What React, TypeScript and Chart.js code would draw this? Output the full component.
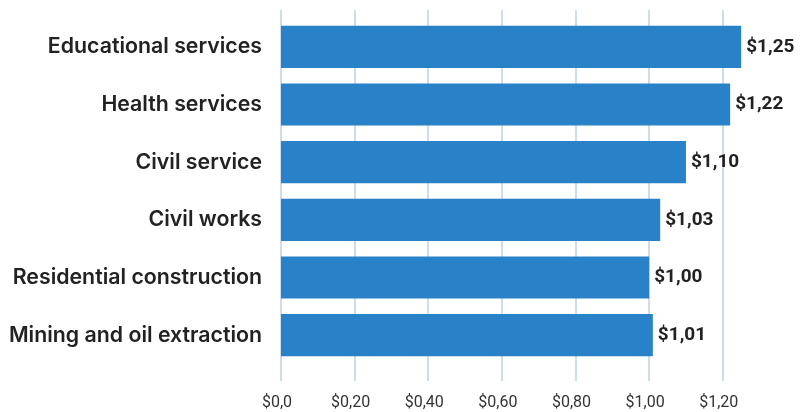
import React, { useEffect, useRef } from "react";
import { Chart, registerables } from "chart.js";

Chart.register(...registerables);

const categories = [
  "Educational services",
  "Health services",
  "Civil service",
  "Civil works",
  "Residential construction",
  "Mining and oil extraction",
];
const values = [1.25, 1.22, 1.1, 1.03, 1.0, 1.01];
const valueLabels = ["$1,25", "$1,22", "$1,10", "$1,03", "$1,00", "$1,01"];
const tickValues = [0, 0.2, 0.4, 0.6, 0.8, 1.0, 1.2];
const tickLabels = ["$0,0", "$0,20", "$0,40", "$0,60", "$0,80", "$1,00", "$1,20"];

const BAR_COLOR = "#2981c7";
const GRID_COLOR = "#cfdbf0";

const gridPlugin = {
  id: "customGrid",
  beforeDatasetsDraw(chart: any) {
    const { ctx } = chart;
    const x = chart.scales.x;
    ctx.save();
    ctx.strokeStyle = GRID_COLOR;
    ctx.lineWidth = 2;
    tickValues.forEach((v) => {
      const px = Math.round(x.getPixelForValue(v));
      ctx.beginPath();
      ctx.moveTo(px, 10);
      ctx.lineTo(px, 381);
      ctx.stroke();
    });
    ctx.restore();
  },
};

const valuePlugin = {
  id: "valueLabels",
  afterDatasetsDraw(chart: any) {
    const { ctx } = chart;
    const meta = chart.getDatasetMeta(0);
    ctx.save();
    ctx.fillStyle = "#222222";
    ctx.font = "bold 19px Roboto";
    ctx.textAlign = "left";
    ctx.textBaseline = "middle";
    meta.data.forEach((bar: any, i: number) => {
      ctx.fillText(valueLabels[i], bar.x + 5, bar.y);
    });
    ctx.restore();
  },
};

export default function App() {
  const ref = useRef<HTMLCanvasElement | null>(null);
  useEffect(() => {
    if (!ref.current) return;
    const chart = new Chart(ref.current, {
      type: "bar",
      data: {
        labels: categories,
        datasets: [
          {
            data: values,
            backgroundColor: BAR_COLOR,
            borderWidth: 0,
            categoryPercentage: 1,
            barPercentage: 0.73,
          },
        ],
      },
      options: {
        indexAxis: "y",
        animation: false,
        responsive: false,
        maintainAspectRatio: false,
        layout: { padding: { top: 18, left: 0, right: 25, bottom: 0 } },
        plugins: { legend: { display: false }, tooltip: { enabled: false } },
        scales: {
          x: {
            min: 0,
            max: 1.35,
            grid: { display: false, drawTicks: false },
            border: { display: false },
            afterBuildTicks: (scale: any) => {
              scale.ticks = tickValues.map((v) => ({ value: v }));
            },
            afterFit: (scale: any) => {
              scale.height = 48;
              scale.paddingLeft = 0;
              scale.paddingRight = 0;
            },
            ticks: {
              padding: 29,
              maxRotation: 0,
              labelOffset: -4,
              color: "#333333",
              font: { family: "Roboto", size: 16 },
              callback: (v: any) => {
                const i = tickValues.findIndex((t) => Math.abs(t - Number(v)) < 1e-6);
                return i >= 0 ? tickLabels[i] : "";
              },
            },
          },
          y: {
            grid: { display: false, drawTicks: false },
            border: { display: false },
            afterFit: (scale: any) => {
              scale.width = 281;
              scale.paddingTop = 0;
              scale.paddingBottom = 0;
            },
            ticks: {
              padding: 19,
              color: "#222222",
              font: { family: "Inter", size: 21.3, weight: "600" },
            },
          },
        },
      },
      plugins: [gridPlugin, valuePlugin],
    });
    return () => chart.destroy();
  }, []);
  return (
    <div style={{ position: "absolute", left: 0, top: 0, width: 803, height: 412, background: "#fff" }}>
      <canvas ref={ref} width={803} height={412} style={{ display: "block" }} />
    </div>
  );
}
